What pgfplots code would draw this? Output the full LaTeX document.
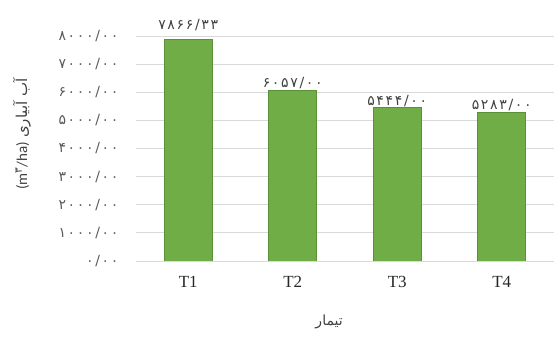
\documentclass[border=0pt]{standalone}
\usepackage{fontspec}
\setmainfont{Liberation Serif}
\newfontfamily\arabicfont[Script=Arabic]{DejaVu Sans}
\newfontfamily\digitfont[LetterSpace=12]{DejaVu Sans}
\newfontfamily\latinsans{Carlito}
\TeXXeTstate=1
\usepackage{pgfplots}
\usepackage{pgfplotstable}
\pgfplotsset{compat=1.18}

\definecolor{barfill}{HTML}{70AD47}
\definecolor{baredge}{HTML}{5B8F3A}
\definecolor{gridc}{HTML}{D9D9D9}
\definecolor{ticktext}{HTML}{595959}
\definecolor{valtext}{HTML}{404040}

% irrigation water per treatment (m3/ha); dy lifts a value label
\pgfplotstableread{
x y lbl dy
0 7866.33 ۷۸۶۶/۳۳ 8
1 6057.00 ۶۰۵۷/۰۰ 0
2 5444.00 ۵۴۴۴/۰۰ 0
3 5283.00 ۵۲۸۳/۰۰ 0
}\waterdata

\begin{document}
\begin{tikzpicture}
\useasboundingbox (-136pt,-86pt) rectangle (420pt,261pt);
\begin{axis}[
  at={(0,0)}, anchor=south west,
  scale only axis, width=418pt, height=225pt,
  xmin=-0.5, xmax=3.5, ymin=0, ymax=8000,
  ybar, bar width=48pt,
  axis x line*=bottom, axis y line*=left,
  x axis line style={draw=gridc, line width=0.8pt, -},
  y axis line style={draw=none},
  major tick length=0pt,
  ymajorgrids, grid style={draw=gridc, line width=0.8pt},
  xtick={0,1,2,3}, xticklabels={T1,T2,T3,T4},
  xticklabel style={font=\fontsize{17}{19}\selectfont, text=black!85, yshift=-12pt},
  ytick={0,1000,...,8000},
  yticklabels={۰/۰۰,۱۰۰۰/۰۰,۲۰۰۰/۰۰,۳۰۰۰/۰۰,۴۰۰۰/۰۰,۵۰۰۰/۰۰,۶۰۰۰/۰۰,۷۰۰۰/۰۰,۸۰۰۰/۰۰},
  yticklabel style={font=\digitfont\fontsize{14}{16}\selectfont, text=ticktext, anchor=east, xshift=-14pt},
  nodes near coords, point meta=explicit symbolic,
  visualization depends on={\thisrow{dy}\as\dy},
  every node near coord/.append style={font=\digitfont\fontsize{14}{16}\selectfont, text=valtext, anchor=south, inner sep=1pt, yshift=\dy pt},
  xlabel={\arabicfont\beginR تیمار\endR},
  xlabel style={at={(axis description cs:0.462,-0.271)}, anchor=center, font=\fontsize{14}{16}\selectfont, text=valtext},
  ylabel={{\latinsans(m\textsuperscript{\arabicfont ۳}/ha)}\ {\arabicfont\beginR آب آبیاری\endR}},
  ylabel style={at={(axis description cs:-0.273,0.564)}, anchor=center, font=\fontsize{15}{17}\selectfont, text=valtext},
]
\addplot[fill=barfill, draw=baredge, line width=0.8pt] table[x=x, y=y, meta=lbl]{\waterdata};
\end{axis}
\end{tikzpicture}
\end{document}
